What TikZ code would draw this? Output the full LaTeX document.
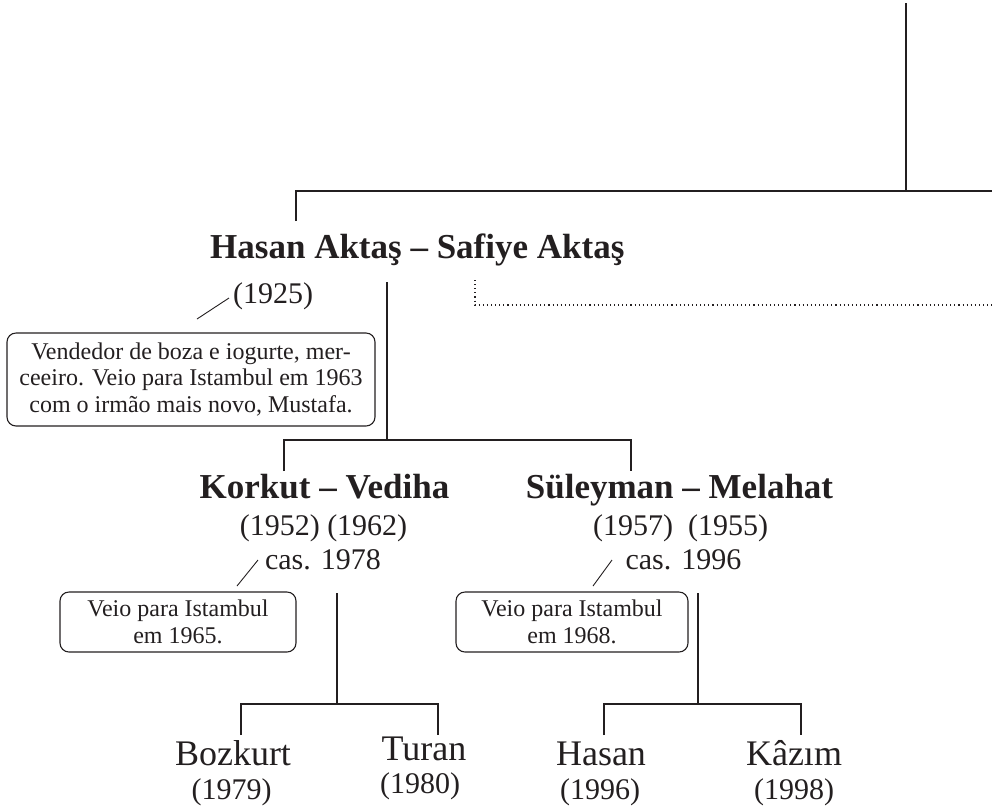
\documentclass[tikz,border=0pt]{standalone}
\usepackage{fontspec}
\setmainfont{Liberation Serif}
\definecolor{ink}{RGB}{35,31,32}
\begin{document}
\begin{tikzpicture}[x=1pt,y=-1pt,
  line/.style={draw=ink, line width=1.1pt},
  dots/.style={draw=ink, line width=1.1pt, dash pattern=on 1.1pt off 3pt},
  namebold/.style={font=\fontsize{35}{40}\selectfont\bfseries, text=ink, inner sep=0pt},
  year/.style={font=\fontsize{30}{34}\selectfont, text=ink, anchor=base, inner sep=0pt},
  child/.style={font=\fontsize{36}{40}\selectfont, text=ink, anchor=base, inner sep=0pt},
  note/.style={draw=ink, line width=1.1pt, rounded corners=9pt, align=center,
    font=\fontsize{24}{26.5}\selectfont, text=ink, inner sep=0pt}]
\useasboundingbox (0,0) rectangle (992,807);

% top level lines
\coordinate (t0) at (906,3);
\coordinate (t1) at (906,191);
\coordinate (tr) at (992,191);
\coordinate (tl) at (296,191);
\coordinate (tl2) at (296,221);
\draw[line] (t0) -- (t1);
\draw[line] (tl2) -- (tl) -- (tr);

% generation 1
\node[namebold, anchor=base west] (hs) at (210,258) {Hasan Aktaş – Safiye Aktaş};
\node[year] (y1925) at (273,303) {(1925)};
\node[note, minimum width=368pt, minimum height=93pt] (n1) at (191,379.5)
  {Vendedor de boza e iogurte, mer-\\ceeiro. Veio para Istambul em 1963\\com o irmão mais novo, Mustafa.};
\coordinate (s1a) at (229,298);
\coordinate (s1b) at (197,319);
\draw[line, line width=0.9pt] (s1a) -- (s1b);

% dotted link
\coordinate (d0) at (475,280);
\coordinate (d1) at (475,305);
\coordinate (d2) at (992,305);
\draw[dots] (d0) -- (d1) -- (d2);

% descent to generation 2
\coordinate (v3a) at (387,282);
\coordinate (v3b) at (387,440);
\coordinate (b2l) at (284,440);
\coordinate (b2r) at (631,440);
\coordinate (b2lb) at (284,471);
\coordinate (b2rb) at (631,471);
\draw[line] (v3a) -- (v3b);
\draw[line] (b2lb) -- (b2l) -- (b2r) -- (b2rb);

% generation 2, left couple
\node[namebold, anchor=base] (kv) at (324.5,498) {Korkut – Vediha};
\node[year] (ykv) at (323.5,535) {(1952) (1962)};
\node[year] (ckv) at (323,569) {cas. 1978};
\node[note, minimum width=236pt, minimum height=60pt] (n2) at (178,622)
  {Veio para Istambul\\em 1965.};
\coordinate (s2a) at (258,560);
\coordinate (s2b) at (237,586);
\draw[line, line width=0.9pt] (s2a) -- (s2b);

% generation 2, right couple
\node[namebold, anchor=base] (sm) at (679.5,498) {Süleyman – Melahat};
\node[year] (ysm) at (680.5,535) {(1957)\hspace{0.5em}(1955)};
\node[year] (csm) at (683.5,569) {cas. 1996};
\node[note, minimum width=232pt, minimum height=60pt] (n3) at (572,622)
  {Veio para Istambul\\em 1968.};
\coordinate (s3a) at (612,560);
\coordinate (s3b) at (593,586);
\draw[line, line width=0.9pt] (s3a) -- (s3b);

% descent to generation 3, left
\coordinate (v6a) at (337,593);
\coordinate (v6b) at (337,704);
\coordinate (b3l) at (241,704);
\coordinate (b3r) at (438,704);
\coordinate (b3lb) at (241,735);
\coordinate (b3rb) at (438,735);
\draw[line] (v6a) -- (v6b);
\draw[line] (b3lb) -- (b3l) -- (b3r) -- (b3rb);

% descent to generation 3, right
\coordinate (v7a) at (698,593);
\coordinate (v7b) at (698,704);
\coordinate (b4l) at (604,704);
\coordinate (b4r) at (801,704);
\coordinate (b4lb) at (604,735);
\coordinate (b4rb) at (801,735);
\draw[line] (v7a) -- (v7b);
\draw[line] (b4lb) -- (b4l) -- (b4r) -- (b4rb);

% generation 3
\node[child] (bz) at (233,765) {Bozkurt};
\node[year] (ybz) at (231.5,799) {(1979)};
\node[child] (tu) at (424,760) {Turan};
\node[year] (ytu) at (420,793) {(1980)};
\node[child] (ha) at (601,765) {Hasan};
\node[year] (yha) at (600,799) {(1996)};
\node[child] (ka) at (794,765) {Kâzım};
\node[year] (yka) at (794,799) {(1998)};
\end{tikzpicture}
\end{document}
